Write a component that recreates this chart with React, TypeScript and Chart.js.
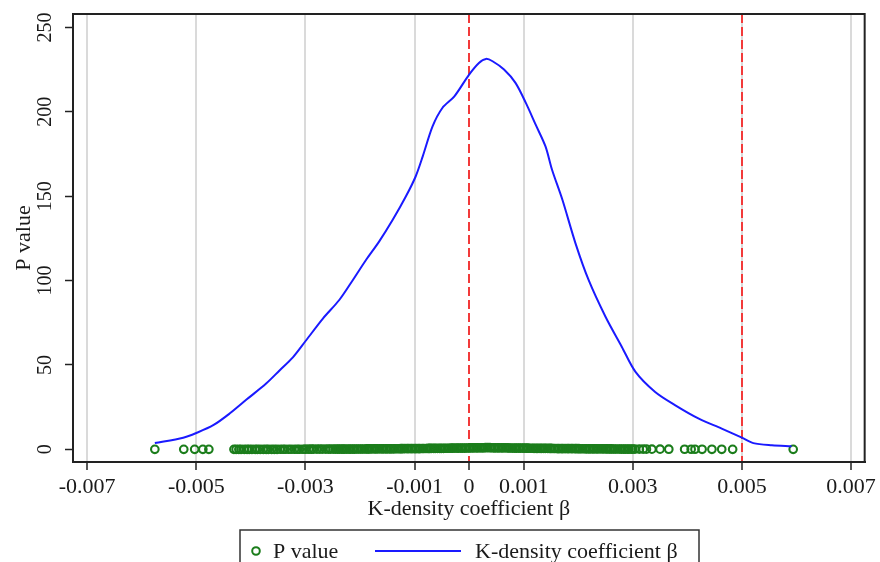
import React, { useEffect, useRef } from 'react';
import { Chart, registerables } from 'chart.js';

Chart.register(...registerables);

// ---------- data ----------
const seriesNames = ['P value', 'K-density coefficient β'];
const xAxisTitle = 'K-density coefficient β';
const yAxisTitle = 'P value';

const xTicks = [-0.007, -0.005, -0.003, -0.001, 0, 0.001, 0.003, 0.005, 0.007];
const xTickLabels = ['-0.007', '-0.005', '-0.003', '-0.001', '0', '0.001', '0.003', '0.005', '0.007'];
const yTicks = [0, 50, 100, 150, 200, 250];
const yTickLabels = ['0', '50', '100', '150', '200', '250'];
const referenceLines = [0, 0.005];

// kernel density curve of the placebo coefficients
const densityX = [
  -0.00576, -0.00524, -0.005, -0.00469, -0.00439, -0.00408, -0.00372, -0.00347, -0.00323, -0.00299,
  -0.00268, -0.00238, -0.00213, -0.00189, -0.00165, -0.0014, -0.00116, -0.00098, -0.00085, -0.00067,
  -0.00049, -0.00027, 0.0, 0.00018, 0.00031, 0.00043, 0.00064, 0.00085, 0.00104, 0.00122,
  0.0014, 0.00152, 0.00171, 0.00195, 0.00219, 0.0025, 0.0028, 0.00305, 0.00341, 0.00378,
  0.00421, 0.00463, 0.005, 0.00521, 0.00555, 0.00591,
];
const densityY = [
  3.7, 6.9, 9.7, 14.3, 21.2, 29.5, 39.0, 46.9, 54.5, 64.5,
  77.5, 88.5, 100.4, 112.2, 123.1, 136.0, 149.8, 161.7, 173.6, 191.4,
  202.3, 209.2, 222.1, 229.0, 231.4, 230.0, 225.1, 217.2, 205.3, 192.4,
  179.5, 165.7, 147.9, 122.1, 100.4, 78.6, 60.7, 45.9, 34.0, 26.1,
  18.2, 12.3, 6.9, 3.7, 2.4, 1.8,
];

// placebo coefficient estimates (x) and their p values (y)
const betaValues = [
  -0.00576, -0.00523, -0.00503, -0.00488, -0.00477,
  -0.00431, -0.00427, -0.00422, -0.00418, -0.00412, -0.00407, -0.00403, -0.00398, -0.00392, -0.00388,
  -0.00383, -0.00377, -0.00372, -0.00368, -0.00362, -0.00357, -0.00352, -0.00346, -0.00341, -0.00337,
  -0.00331, -0.00326, -0.0032, -0.00315, -0.00311, -0.00305, -0.003, -0.00294, -0.00289, -0.00285,
  -0.00279, -0.00274, -0.00269, -0.00263, -0.00258, -0.00254, -0.00249,
  -0.00245, -0.00241, -0.00238, -0.00234, -0.00231, -0.00228, -0.00224, -0.0022, -0.00217, -0.00213,
  -0.0021, -0.00206, -0.00203, -0.00199, -0.00196, -0.00192, -0.00188, -0.00185, -0.00182, -0.00178,
  -0.00174, -0.00171, -0.00168, -0.00164, -0.0016, -0.00157, -0.00153, -0.0015, -0.00146, -0.00143,
  -0.00139, -0.00136, -0.00132, -0.00128, -0.00125, -0.00122, -0.00118, -0.00114, -0.00111, -0.00107,
  -0.00104, -0.001, -0.00097, -0.00093, -0.0009, -0.00086, -0.00083, -0.00079, -0.00075, -0.00072,
  -0.00069, -0.00065, -0.00062, -0.00058, -0.00054, -0.00051, -0.00047, -0.00044, -0.0004, -0.00037,
  -0.00033, -0.0003, -0.00026, -0.00022, -0.00019, -0.00015, -0.00012, -0.00008, -0.00005, -0.00001,
  0.00002, 0.00006, 0.00009, 0.00013, 0.00016, 0.0002, 0.00024, 0.00027, 0.0003, 0.00034,
  0.00038, 0.00041, 0.00045, 0.00048, 0.00052, 0.00055, 0.00059, 0.00062, 0.00066, 0.0007,
  0.00073, 0.00076, 0.0008, 0.00084, 0.00087, 0.00091, 0.00094, 0.00098, 0.00101, 0.00105,
  0.00108, 0.00112, 0.00116, 0.00119, 0.00123, 0.00126, 0.0013, 0.00133, 0.00137, 0.0014,
  0.00144, 0.00148, 0.00151, 0.00155, 0.00158, 0.00162, 0.00165, 0.00169, 0.00172, 0.00176,
  0.0018, 0.00183, 0.00187, 0.0019, 0.00194, 0.00197, 0.00201, 0.00204, 0.00208, 0.00212,
  0.00215, 0.00219, 0.00222, 0.00226, 0.00229, 0.00233, 0.00236, 0.0024, 0.00244, 0.00247,
  0.00251, 0.00254, 0.00258, 0.00261, 0.00265, 0.00268, 0.00272, 0.00276, 0.00279, 0.00283,
  0.00286, 0.0029, 0.00293, 0.00297, 0.003, 0.00304,
  0.00312, 0.00319, 0.00325, 0.00335, 0.0035, 0.00366, 0.00395, 0.00407, 0.00414, 0.00427,
  0.00445, 0.00463, 0.00483, 0.00594,
];
const pValues = [
  0.002, 0.006, 0.008, 0.01, 0.012,
  0.01, 0.01, 0.01, 0.02, 0.02, 0.02, 0.02, 0.02, 0.02, 0.02,
  0.03, 0.03, 0.03, 0.03, 0.04, 0.04, 0.04, 0.05, 0.05, 0.05,
  0.05, 0.06, 0.06, 0.06, 0.07, 0.07, 0.08, 0.08, 0.08, 0.09,
  0.09, 0.1, 0.1, 0.11, 0.11, 0.12, 0.12,
  0.13, 0.13, 0.14, 0.14, 0.15, 0.15, 0.16, 0.16, 0.17, 0.18,
  0.18, 0.19, 0.19, 0.2, 0.21, 0.21, 0.22, 0.23, 0.23, 0.24,
  0.25, 0.26, 0.26, 0.27, 0.28, 0.29, 0.3, 0.3, 0.31, 0.32,
  0.33, 0.34, 0.35, 0.36, 0.37, 0.38, 0.39, 0.4, 0.41, 0.42,
  0.43, 0.44, 0.45, 0.46, 0.47, 0.49, 0.5, 0.51, 0.52, 0.53,
  0.54, 0.56, 0.57, 0.58, 0.6, 0.61, 0.62, 0.64, 0.65, 0.66,
  0.68, 0.69, 0.71, 0.72, 0.74, 0.75, 0.77, 0.78, 0.79, 0.81,
  0.82, 0.84, 0.85, 0.87, 0.88, 0.9, 0.92, 0.94, 0.96, 0.98,
  0.97, 0.95, 0.93, 0.92, 0.9, 0.89, 0.87, 0.86, 0.84, 0.83,
  0.81, 0.8, 0.78, 0.77, 0.75, 0.74, 0.73, 0.71, 0.7, 0.68,
  0.67, 0.66, 0.64, 0.63, 0.62, 0.6, 0.59, 0.58, 0.57, 0.55,
  0.54, 0.53, 0.52, 0.51, 0.49, 0.48, 0.47, 0.46, 0.45, 0.44,
  0.43, 0.42, 0.41, 0.4, 0.39, 0.38, 0.37, 0.36, 0.35, 0.34,
  0.33, 0.32, 0.31, 0.3, 0.29, 0.28, 0.27, 0.27, 0.26, 0.25,
  0.24, 0.23, 0.23, 0.22, 0.21, 0.21, 0.2, 0.19, 0.18, 0.18,
  0.17, 0.16, 0.16, 0.15, 0.15, 0.14,
  0.13, 0.12, 0.12, 0.11, 0.09, 0.08, 0.06, 0.05, 0.05, 0.04,
  0.03, 0.03, 0.02, 0.004,
];

// ---------- styles ----------
const FONT_FAMILY = '"Liberation Serif", "Times New Roman", Times, serif';
const FONT_SIZE = 22;
const Y_TICK_FONT_SIZE = 20;
const TEXT_COLOR = '#1a1a1a';
const AXIS_COLOR = '#222222';
const GREEN = '#1b7d1b';
const BLUE = '#1a1aff';
const RED = '#f23a3a';
const GRID = '#dadada';

const chromePlugin = {
  id: 'chrome',
  beforeDatasetsDraw(chart: any) {
    const { ctx, chartArea, scales } = chart;
    ctx.save();
    ctx.strokeStyle = RED;
    ctx.lineWidth = 2;
    ctx.setLineDash([9, 4]);
    for (const v of referenceLines) {
      const x = Math.round(scales.x.getPixelForValue(v));
      ctx.beginPath();
      ctx.moveTo(x, chartArea.top);
      ctx.lineTo(x, chartArea.bottom);
      ctx.stroke();
    }
    ctx.restore();
  },
  afterDraw(chart: any) {
    const { ctx, chartArea, scales } = chart;
    ctx.save();
    // frame
    ctx.strokeStyle = AXIS_COLOR;
    ctx.lineWidth = 2;
    ctx.strokeRect(chartArea.left, chartArea.top, chartArea.right - chartArea.left, chartArea.bottom - chartArea.top);

    // rotated y tick labels
    ctx.fillStyle = TEXT_COLOR;
    ctx.font = `${Y_TICK_FONT_SIZE}px ${FONT_FAMILY}`;
    ctx.textAlign = 'center';
    ctx.textBaseline = 'middle';
    yTicks.forEach((v, i) => {
      const y = scales.y.getPixelForValue(v);
      ctx.save();
      ctx.translate(chartArea.left - 27, y);
      ctx.rotate(-Math.PI / 2);
      ctx.fillText(yTickLabels[i], 0, 0);
      ctx.restore();
    });

    // legend box
    ctx.font = `${FONT_SIZE}px ${FONT_FAMILY}`;
    const lx = 240, ly = 530, lw = 459, lh = 46;
    ctx.strokeStyle = '#333333';
    ctx.lineWidth = 1.5;
    ctx.strokeRect(lx, ly, lw, lh);
    const cy = 551;
    ctx.strokeStyle = GREEN;
    ctx.lineWidth = 2;
    ctx.beginPath();
    ctx.arc(256, cy, 3.8, 0, Math.PI * 2);
    ctx.stroke();
    ctx.textAlign = 'left';
    ctx.fillStyle = TEXT_COLOR;
    ctx.fillText(seriesNames[0], 273, cy + 1);
    ctx.strokeStyle = BLUE;
    ctx.lineWidth = 2;
    ctx.beginPath();
    ctx.moveTo(375, cy);
    ctx.lineTo(461, cy);
    ctx.stroke();
    ctx.fillText(seriesNames[1], 475, cy + 1);
    ctx.restore();
  },
};

export default function App() {
  const canvasRef = useRef<HTMLCanvasElement | null>(null);

  useEffect(() => {
    const canvas = canvasRef.current;
    if (!canvas) return;
    const font = { family: FONT_FAMILY, size: FONT_SIZE };
    const chart = new Chart(canvas, {
      type: 'scatter',
      data: {
        datasets: [
          {
            label: seriesNames[0],
            data: betaValues.map((b, i) => ({ x: b, y: pValues[i] })),
            showLine: false,
            pointStyle: 'circle',
            pointRadius: 3.8,
            pointBorderWidth: 2.1,
            borderColor: GREEN,
            backgroundColor: 'rgba(0,0,0,0)',
            order: 1,
          },
          {
            label: seriesNames[1],
            data: densityX.map((x, i) => ({ x, y: densityY[i] })),
            showLine: true,
            borderColor: BLUE,
            backgroundColor: BLUE,
            borderWidth: 2,
            pointRadius: 0,
            tension: 0.3,
            order: 0,
          },
        ],
      },
      options: {
        animation: false,
        responsive: false,
        layout: { padding: { top: 14, right: 13, left: 0, bottom: 40 } },
        plugins: {
          legend: { display: false },
          tooltip: { enabled: false },
        },
        scales: {
          x: {
            type: 'linear',
            min: -0.00726,
            max: 0.00725,
            afterBuildTicks: (s: any) => {
              s.ticks = xTicks.map((v) => ({ value: v }));
            },
            afterFit: (s: any) => {
              s.height = 60;
            },
            ticks: {
              autoSkip: false,
              maxRotation: 0,
              minRotation: 0,
              padding: 4,
              color: TEXT_COLOR,
              font,
              callback: (_v: any, i: number) => xTickLabels[i],
            },
            grid: {
              color: (c: any) => (c.tick && c.tick.value === 0 ? 'rgba(0,0,0,0)' : GRID),
              lineWidth: 2,
              tickColor: AXIS_COLOR,
              tickLength: 8,
              tickWidth: 1.5,
            },
            border: { color: AXIS_COLOR, width: 2 },
            title: {
              display: true,
              text: xAxisTitle,
              color: TEXT_COLOR,
              font,
              padding: { top: 0, bottom: 0 },
            },
          },
          y: {
            type: 'linear',
            min: -7.5,
            max: 258,
            afterBuildTicks: (s: any) => {
              s.ticks = yTicks.map((v) => ({ value: v }));
            },
            afterFit: (s: any) => {
              s.width = 73;
            },
            ticks: { display: false },
            grid: {
              drawOnChartArea: false,
              tickColor: AXIS_COLOR,
              tickLength: 8,
              tickWidth: 1.5,
            },
            border: { color: AXIS_COLOR, width: 2 },
            title: {
              display: true,
              text: yAxisTitle,
              color: TEXT_COLOR,
              font,
              padding: { top: 11, bottom: 0 },
            },
          },
        },
      },
      plugins: [chromePlugin],
    } as any);
    return () => chart.destroy();
  }, []);

  return (
    <div style={{ position: 'absolute', left: 0, top: 0, width: 880, height: 562, background: '#fff' }}>
      <canvas ref={canvasRef} width={880} height={562} />
    </div>
  );
}
